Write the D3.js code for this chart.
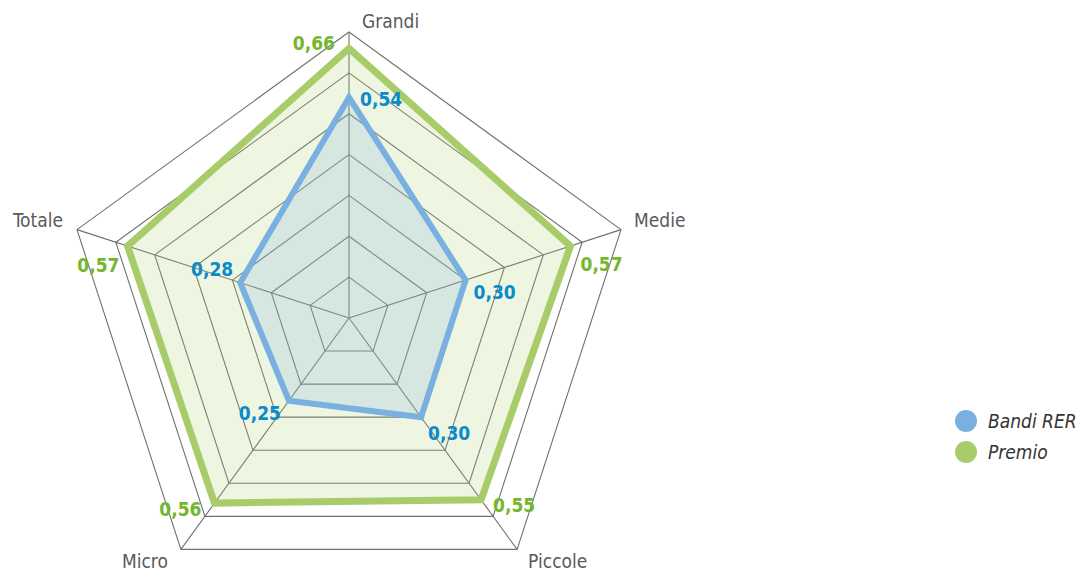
<!DOCTYPE html>
<html>
<head>
<meta charset="utf-8">
<script src="https://cdn.jsdelivr.net/npm/d3@7"></script>
<style>
  body { margin: 0; background: #fff; }
  text { font-family: "DejaVu Sans Condensed", "Liberation Sans Narrow", sans-serif; }
</style>
</head>
<body>
<div id="vis"></div>
<script>
// radar: Bandi RER vs Premio
var axes = ["Grandi", "Medie", "Piccole", "Micro", "Totale"];
var bandi = [0.54, 0.30, 0.30, 0.25, 0.28];
var premio = [0.66, 0.57, 0.55, 0.56, 0.57];
var ticks = [0.1, 0.2, 0.3, 0.4, 0.5, 0.6, 0.7];
var seriesNames = ["Bandi RER", "Premio"];

var w = 1082;
var h = 574;
var cx = 349;
var cy = 318;

var svg = d3.select("#vis").append("svg").attr("width", w).attr("height", h);
var g = svg.append("g").attr("transform", "translate(" + cx + "," + cy + ")");

var r = d3.scaleLinear().domain([0, 0.7]).range([0, 286]);
var angle = d3.scaleLinear().domain([0, axes.length]).range([0, 2 * Math.PI]);

function px(i, v) { return r(v) * Math.sin(angle(i)); }
function py(i, v) { return -r(v) * Math.cos(angle(i)); }

var radial = d3.lineRadial()
  .angle(function (d, i) { return angle(i); })
  .radius(function (d) { return r(d); })
  .curve(d3.curveLinearClosed);

// grid rings
g.selectAll(".ring")
  .data(ticks)
  .enter()
  .append("path")
  .attr("d", function (t) { return radial(axes.map(function () { return t; })); })
  .attr("fill", "none")
  .attr("stroke", "#707070")
  .attr("stroke-width", 1.1);

// spokes
g.selectAll(".spoke")
  .data(axes)
  .enter()
  .append("line")
  .attr("x1", 0)
  .attr("y1", 0)
  .attr("x2", function (d, i) { return px(i, 0.7); })
  .attr("y2", function (d, i) { return py(i, 0.7); })
  .attr("stroke", "#707070")
  .attr("stroke-width", 1.1);

// premio
g.append("path")
  .attr("d", radial(premio))
  .attr("fill", "rgba(168,204,106,0.2)")
  .attr("stroke", "#a8cc6a")
  .attr("stroke-width", 7)
  .attr("stroke-linejoin", "miter");

// bandi
g.append("path")
  .attr("d", radial(bandi))
  .attr("fill", "rgba(122,176,224,0.2)")
  .attr("stroke", "#7ab0e0")
  .attr("stroke-width", 6)
  .attr("stroke-linejoin", "miter");

// axis labels
var axisOff = [[13, -4, "start"], [13, -3, "start"], [11, 19, "start"], [-13, 19, "end"], [-14, -3, "end"]];
g.selectAll(".axlab")
  .data(axes)
  .enter()
  .append("text")
  .attr("x", function (d, i) { return px(i, 0.7) + axisOff[i][0]; })
  .attr("y", function (d, i) { return py(i, 0.7) + axisOff[i][1]; })
  .attr("text-anchor", function (d, i) { return axisOff[i][2]; })
  .attr("font-size", 19)
  .attr("fill", "#5a5a5a")
  .text(function (d) { return d; });

function fmt(v) { return d3.format(".2f")(v).replace(".", ","); }

var premioOff = [[-14, 2, "end"], [10, 25, "start"], [12, 12, "start"], [-13, 13, "end"], [-8, 26, "end"]];
var bandiOff = [[11, 9, "start"], [8, 19, "start"], [7, 23, "start"], [-8, 19, "end"], [-7, -7, "end"]];

g.selectAll(".plab")
  .data(premio)
  .enter()
  .append("text")
  .attr("x", function (d, i) { return px(i, d) + premioOff[i][0]; })
  .attr("y", function (d, i) { return py(i, d) + premioOff[i][1]; })
  .attr("text-anchor", function (d, i) { return premioOff[i][2]; })
  .attr("font-size", 19)
  .attr("font-weight", "bold")
  .attr("fill", "#74b72e")
  .text(fmt);

g.selectAll(".blab")
  .data(bandi)
  .enter()
  .append("text")
  .attr("x", function (d, i) { return px(i, d) + bandiOff[i][0]; })
  .attr("y", function (d, i) { return py(i, d) + bandiOff[i][1]; })
  .attr("text-anchor", function (d, i) { return bandiOff[i][2]; })
  .attr("font-size", 19)
  .attr("font-weight", "bold")
  .attr("fill", "#0a8bcb")
  .text(fmt);

// legend
var legColors = ["#7ab0e0", "#a8cc6a"];
var leg = svg.append("g").attr("transform", "translate(966,421)");
leg.selectAll("circle")
  .data(seriesNames)
  .enter()
  .append("circle")
  .attr("cx", 0)
  .attr("cy", function (d, i) { return i * 31; })
  .attr("r", 11)
  .attr("fill", function (d, i) { return legColors[i]; });
leg.selectAll("text")
  .data(seriesNames)
  .enter()
  .append("text")
  .attr("x", 22)
  .attr("y", function (d, i) { return i * 31 + 7; })
  .attr("font-size", 19)
  .attr("font-style", "italic")
  .attr("fill", "#333")
  .text(function (d) { return d; });
</script>
</body>
</html>
